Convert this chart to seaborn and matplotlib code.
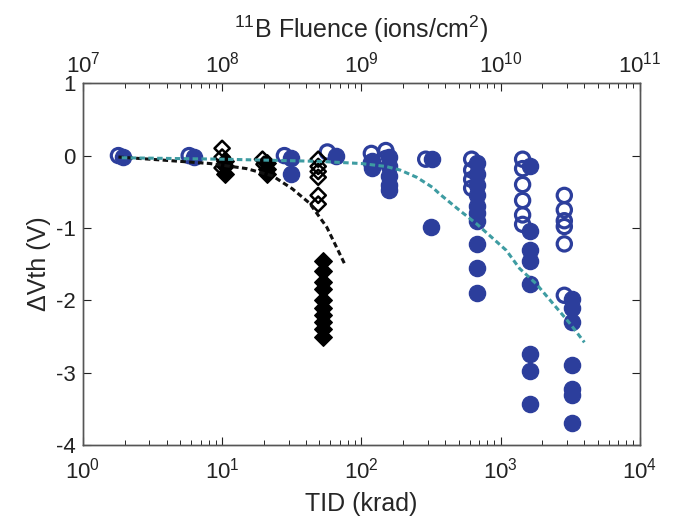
import matplotlib
matplotlib.use("Agg")
import matplotlib.pyplot as plt
import numpy as np
import pandas as pd
import seaborn as sns
from matplotlib.ticker import LogLocator, NullFormatter

# ---- threshold-voltage shift vs total ionizing dose ----
# open / filled blue circles
blue_open_tid = [1.8, 5.8, 28, 57, 118, 118, 150, 150, 290,
                 620, 620, 620, 620,
                 1440, 1440, 1440, 1440, 1440, 1440,
                 2870, 2870, 2870, 2870, 2870, 2870]
blue_open_dv = [0.0, 0.0, 0.0, 0.05, 0.03, -0.10, 0.07, -0.04, -0.05,
                -0.05, -0.20, -0.33, -0.45,
                -0.05, -0.18, -0.40, -0.62, -0.82, -0.95,
                -0.55, -0.75, -0.90, -0.98, -1.22, -1.93]

blue_filled_tid = [1.95, 6.3, 31, 31, 66, 120, 120,
                   158, 158, 158, 158, 158, 320, 318,
                   680, 680, 680, 680, 680, 680, 680, 680, 680, 680,
                   1620, 1620, 1620, 1620, 1620, 1620, 1620, 1620,
                   3240, 3240, 3240, 3240, 3240, 3240, 3240]
blue_filled_dv = [-0.02, -0.02, -0.03, -0.25, 0.0, -0.07, -0.17,
                  -0.02, -0.14, -0.28, -0.41, -0.48, -0.05, -0.98,
                  -0.10, -0.25, -0.40, -0.55, -0.70, -0.80, -0.90, -1.22, -1.55, -1.90,
                  -0.15, -1.04, -1.31, -1.45, -1.77, -2.74, -2.97, -3.43,
                  -1.98, -2.11, -2.30, -2.90, -3.22, -3.31, -3.70]

# open / filled black diamonds
black_open_tid = [10, 10, 10, 19.5, 20, 49, 49, 49, 49, 49, 49]
black_open_dv = [0.10, -0.02, -0.17, -0.05, -0.12, -0.05, -0.15, -0.22, -0.30, -0.55, -0.67]

black_filled_tid = [10.5, 10.5, 10.5, 21, 21, 21,
                    53, 53, 53, 53, 53, 53, 53, 53, 53, 53]
black_filled_dv = [-0.08, -0.15, -0.25, -0.10, -0.18, -0.25,
                   -1.45, -1.60, -1.75, -1.85, -2.00, -2.10, -2.20, -2.30, -2.40, -2.50]

# trend curves
black_fit_tid = [1.8, 3.6, 8.2, 15, 23, 32, 42.6, 56.5, 76]
black_fit_dv = [-0.02, -0.06, -0.11, -0.18, -0.28, -0.46, -0.66, -0.99, -1.50]

teal_fit_tid = [1.9, 10, 30, 50, 100, 150, 190, 250, 325, 365, 510, 670,
                1100, 1370, 1800, 3150, 4000]
teal_fit_dv = [-0.03, -0.05, -0.07, -0.08, -0.11, -0.15, -0.20, -0.30, -0.44, -0.53,
               -0.76, -0.94, -1.31, -1.56, -1.77, -2.32, -2.58]

BLUE = "#2C3E9C"
TEAL = "#3E9CA2"

sns.set_style("ticks")
plt.rcParams["font.family"] = ["Liberation Sans", "DejaVu Sans"]
plt.rcParams["mathtext.fontset"] = "custom"
plt.rcParams["mathtext.rm"] = "Liberation Sans"
plt.rcParams["mathtext.default"] = "regular"

fig = plt.figure(figsize=(6.85, 5.2), dpi=100)
ax = fig.add_axes([0.121, 0.144, 0.813, 0.696])

df_bo = pd.DataFrame({"tid": blue_open_tid, "dv": blue_open_dv})
df_bf = pd.DataFrame({"tid": blue_filled_tid, "dv": blue_filled_dv})
df_ko = pd.DataFrame({"tid": black_open_tid, "dv": black_open_dv})
df_kf = pd.DataFrame({"tid": black_filled_tid, "dv": black_filled_dv})
df_kfit = pd.DataFrame({"tid": black_fit_tid, "dv": black_fit_dv})
df_tfit = pd.DataFrame({"tid": teal_fit_tid, "dv": teal_fit_dv})

sns.scatterplot(data=df_bo, x="tid", y="dv", ax=ax, marker="o", s=105,
                facecolor="none", edgecolor=BLUE, linewidth=2.3, zorder=3)
sns.scatterplot(data=df_bf, x="tid", y="dv", ax=ax, marker="o", s=135,
                color=BLUE, edgecolor=BLUE, linewidth=1.0, zorder=4)
sns.scatterplot(data=df_ko, x="tid", y="dv", ax=ax, marker="D", s=60,
                facecolor="none", edgecolor="black", linewidth=1.8, zorder=3)
sns.scatterplot(data=df_kf, x="tid", y="dv", ax=ax, marker="D", s=80,
                color="black", edgecolor="black", linewidth=1.0, zorder=4)

sns.lineplot(data=df_kfit, x="tid", y="dv", ax=ax, color="#111111", lw=2.2,
             zorder=5, estimator=None, sort=False)
sns.lineplot(data=df_tfit, x="tid", y="dv", ax=ax, color=TEAL, lw=2.2,
             zorder=5, estimator=None, sort=False)
for ln in ax.lines:
    ln.set_linestyle((0, (1.8, 1.1)))

ax.set_xscale("log")
ax.set_xlim(1, 1e4)
ax.set_ylim(-4, 1)
ax.set_yticks([-4, -3, -2, -1, 0, 1])
ax.set_yticklabels(["-4", "-3", "-2", "-1", "0", "1"])
ax.xaxis.set_major_locator(LogLocator(base=10, numticks=10))
ax.xaxis.set_minor_locator(LogLocator(base=10, subs=np.arange(2, 10), numticks=20))
ax.xaxis.set_minor_formatter(NullFormatter())

ax.set_xlabel("TID (krad)", fontsize=18, labelpad=6)
ax.set_ylabel("ΔVth (V)", fontsize=18, labelpad=4)

ax.tick_params(axis="both", which="major", direction="in", length=6, width=0.8,
               labelsize=16, top=False, right=True, colors="#222222")
ax.tick_params(axis="x", which="minor", direction="in", length=3.5, width=0.7,
               top=False)
ax.tick_params(axis="x", which="major", pad=9)
ax.tick_params(axis="y", which="major", pad=5)

# fluence scale along the top edge
ax2 = ax.twiny()
ax2.set_xscale("log")
ax2.set_xlim(1e7, 1e11)
ax2.xaxis.set_major_locator(LogLocator(base=10, numticks=10))
ax2.xaxis.set_minor_locator(LogLocator(base=10, subs=np.arange(2, 10), numticks=20))
ax2.xaxis.set_minor_formatter(NullFormatter())
ax2.tick_params(axis="x", which="major", direction="in", length=6, width=0.8,
                labelsize=16, pad=4, colors="#222222")
ax2.tick_params(axis="x", which="minor", direction="in", length=3.5, width=0.7)
ax2.set_xlabel("$^{11}$B Fluence (ions/cm$^{2}$)", fontsize=18, labelpad=10)

for a in (ax, ax2):
    for sp in a.spines.values():
        sp.set_color("#555555")
        sp.set_linewidth(1.0)

fig.savefig("out.png", dpi=100)
